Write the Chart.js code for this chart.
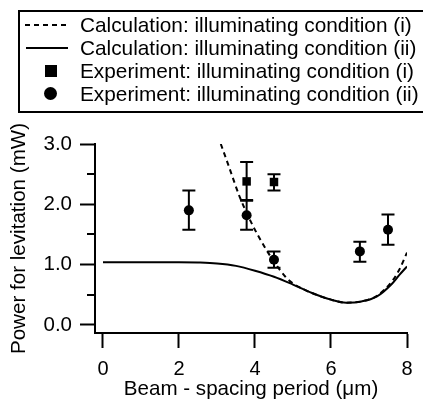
<!DOCTYPE html>
<html>
<head>
    <meta charset="utf-8" />
    <title>Power for levitation</title>
    <script src="https://cdn.jsdelivr.net/npm/chart.js"></script>
    <style>
        html, body { margin: 0; padding: 0; background: #fff; overflow: hidden; width: 423px; height: 403px; }
        #wrap { position: relative; width: 423px; height: 403px; }
        #legend {
            position: absolute; left: 18px; top: 10px; width: 405px; height: 103px;
            box-sizing: border-box; border-top: 2px solid #000; border-bottom: 2px solid #000; border-left: 2px solid #000;
            padding-top: 1px; overflow: hidden;
            font-family: "Liberation Sans", Arial, sans-serif; font-size: 20.8px; color: #000;
        }
        .row { position: relative; height: 23px; line-height: 23px; padding-left: 60px; white-space: nowrap; }
        .sym { position: absolute; }
        .dash { left: 5px; top: 11px; width: 41px; height: 2px;
                background: repeating-linear-gradient(to right, #000 0 5px, transparent 5px 9px); }
        .solid { left: 6px; top: 11px; width: 42px; height: 2px; background: #000; }
        .sq { left: 25px; top: 6px; width: 12px; height: 12px; background: #000; }
        .dot { left: 24px; top: 5px; width: 13px; height: 13px; border-radius: 50%; background: #000; }
    </style>
</head>
<body>
<div id="wrap">
    <canvas id="grafico" width="423" height="403"></canvas>
    <!-- Leyenda -->
    <div id="legend">
        <div class="row"><span class="sym dash"></span>Calculation: illuminating condition (i)</div>
        <div class="row"><span class="sym solid"></span>Calculation: illuminating condition (ii)</div>
        <div class="row"><span class="sym sq"></span>Experiment: illuminating condition (i)</div>
        <div class="row"><span class="sym dot"></span>Experiment: illuminating condition (ii)</div>
    </div>
</div>

<script>
    // Datos
    var calcIx  = [3.1, 3.3, 3.6, 3.9, 4.2, 4.5, 4.8, 5.0, 5.5, 6.0, 6.4, 6.8, 7.2, 7.6, 7.8, 8.0];
    var calcIy  = [3.0, 2.65, 2.12, 1.7, 1.35, 1.05, 0.8, 0.69, 0.53, 0.42, 0.37, 0.39, 0.48, 0.72, 0.92, 1.2];

    var calcIIx = [0, 1, 2, 2.5, 3, 3.5, 4, 4.5, 5, 5.5, 6, 6.4, 6.8, 7.2, 7.6, 7.8, 8.0];
    var calcIIy = [1.04, 1.04, 1.04, 1.035, 1.02, 0.98, 0.90, 0.80, 0.67, 0.53, 0.42, 0.37, 0.39, 0.47, 0.68, 0.83, 0.97];

    var expIx  = [3.78, 4.5];
    var expIy  = [2.38, 2.37];
    var expILo = [2.06, 2.23];
    var expIHi = [2.70, 2.50];

    var expIIx  = [2.26, 3.78, 4.5, 6.76, 7.5];
    var expIIy  = [1.90, 1.82, 1.08, 1.22, 1.58];
    var expIILo = [1.58, 1.58, 0.95, 1.05, 1.33];
    var expIIHi = [2.23, 2.07, 1.22, 1.38, 1.83];

    var xTicks = [0, 2, 4, 6, 8];
    var yTicks = [0, 1, 2, 3];
    var yMinorTicks = [0.5, 1.5, 2.5];

    function pts(xs, ys) {
        return xs.map(function (x, i) { return { x: x, y: ys[i] }; });
    }

    // Barras de error
    var errorBars = {
        id: 'errorBars',
        afterDatasetsDraw: function (chart) {
            var ctx = chart.ctx, xs = chart.scales.x, ys = chart.scales.y;
            chart.data.datasets.forEach(function (ds) {
                if (!ds.errLo) return;
                ctx.save();
                ctx.strokeStyle = '#000';
                ctx.lineWidth = 2;
                ds.data.forEach(function (p, i) {
                    var px = xs.getPixelForValue(p.x);
                    var lo = ys.getPixelForValue(ds.errLo[i]);
                    var hi = ys.getPixelForValue(ds.errHi[i]);
                    ctx.beginPath();
                    ctx.moveTo(px, lo); ctx.lineTo(px, hi);
                    ctx.moveTo(px - 6.5, lo); ctx.lineTo(px + 6.5, lo);
                    ctx.moveTo(px - 6.5, hi); ctx.lineTo(px + 6.5, hi);
                    ctx.stroke();
                });
                ctx.restore();
            });
        }
    };

    // Marcas menores del eje y
    var minorTicks = {
        id: 'minorTicks',
        afterDraw: function (chart) {
            var ctx = chart.ctx, ys = chart.scales.y, left = chart.chartArea.left;
            ctx.save();
            ctx.strokeStyle = '#000';
            ctx.lineWidth = 2;
            yMinorTicks.forEach(function (v) {
                var py = Math.round(ys.getPixelForValue(v));
                ctx.beginPath();
                ctx.moveTo(left - 8, py); ctx.lineTo(left, py);
                ctx.stroke();
            });
            ctx.restore();
        }
    };

    Chart.defaults.font.family = '"Liberation Sans", Arial, sans-serif';
    Chart.defaults.font.size = 20;
    Chart.defaults.color = '#000';

    var ctx1 = document.getElementById('grafico').getContext('2d');
    var myChart = new Chart(ctx1, {
        type: 'scatter',
        data: {
            datasets: [
                {
                    label: 'Calculation: illuminating condition (i)',
                    data: pts(calcIx, calcIy),
                    showLine: true,
                    borderColor: '#000',
                    borderWidth: 2,
                    borderDash: [5, 4],
                    pointRadius: 0,
                    cubicInterpolationMode: 'monotone'
                },
                {
                    label: 'Calculation: illuminating condition (ii)',
                    data: pts(calcIIx, calcIIy),
                    showLine: true,
                    borderColor: '#000',
                    borderWidth: 2,
                    pointRadius: 0,
                    cubicInterpolationMode: 'monotone'
                },
                {
                    label: 'Experiment: illuminating condition (i)',
                    data: pts(expIx, expIy),
                    errLo: expILo,
                    errHi: expIHi,
                    pointStyle: 'rect',
                    pointRadius: 6,
                    backgroundColor: '#000',
                    borderColor: '#000',
                    borderWidth: 0
                },
                {
                    label: 'Experiment: illuminating condition (ii)',
                    data: pts(expIIx, expIIy),
                    errLo: expIILo,
                    errHi: expIIHi,
                    pointStyle: 'circle',
                    pointRadius: 5,
                    backgroundColor: '#000',
                    borderColor: '#000',
                    borderWidth: 0
                }
            ]
        },
        options: {
            responsive: false,
            animation: false,
            devicePixelRatio: 1,
            layout: { padding: { top: 144, right: 16, left: 0, bottom: 0 } },
            plugins: {
                legend: { display: false },
                tooltip: { enabled: false }
            },
            scales: {
                x: {
                    type: 'linear',
                    min: -0.21,
                    max: 8,
                    afterBuildTicks: function (s) { s.ticks = xTicks.map(function (v) { return { value: v }; }); },
                    afterFit: function (s) { s.height = 70; },
                    border: { display: true, color: '#000', width: 2 },
                    grid: { display: true, drawOnChartArea: false, drawTicks: true, tickLength: 15, tickColor: '#000', tickWidth: 2 },
                    ticks: { padding: 9, maxRotation: 0, callback: function (v) { return v; } },
                    title: { display: true, text: 'Beam - spacing period (\u03bcm)', font: { size: 20.6 }, padding: { top: 0, bottom: 1 } }
                },
                y: {
                    type: 'linear',
                    min: -0.133,
                    max: 3,
                    afterBuildTicks: function (s) { s.ticks = yTicks.map(function (v) { return { value: v }; }); },
                    afterFit: function (s) { s.width = 95; },
                    border: { display: true, color: '#000', width: 2 },
                    grid: { display: true, drawOnChartArea: false, drawTicks: true, tickLength: 15, tickColor: '#000', tickWidth: 2 },
                    ticks: { padding: 8, font: { size: 20.5 }, callback: function (v) { return Number(v).toFixed(1); } },
                    title: { display: true, text: 'Power for levitation (mW)', font: { size: 20.6 }, padding: { top: 7, bottom: 0 } }
                }
            }
        },
        plugins: [errorBars, minorTicks]
    });
</script>
</body>
</html>
